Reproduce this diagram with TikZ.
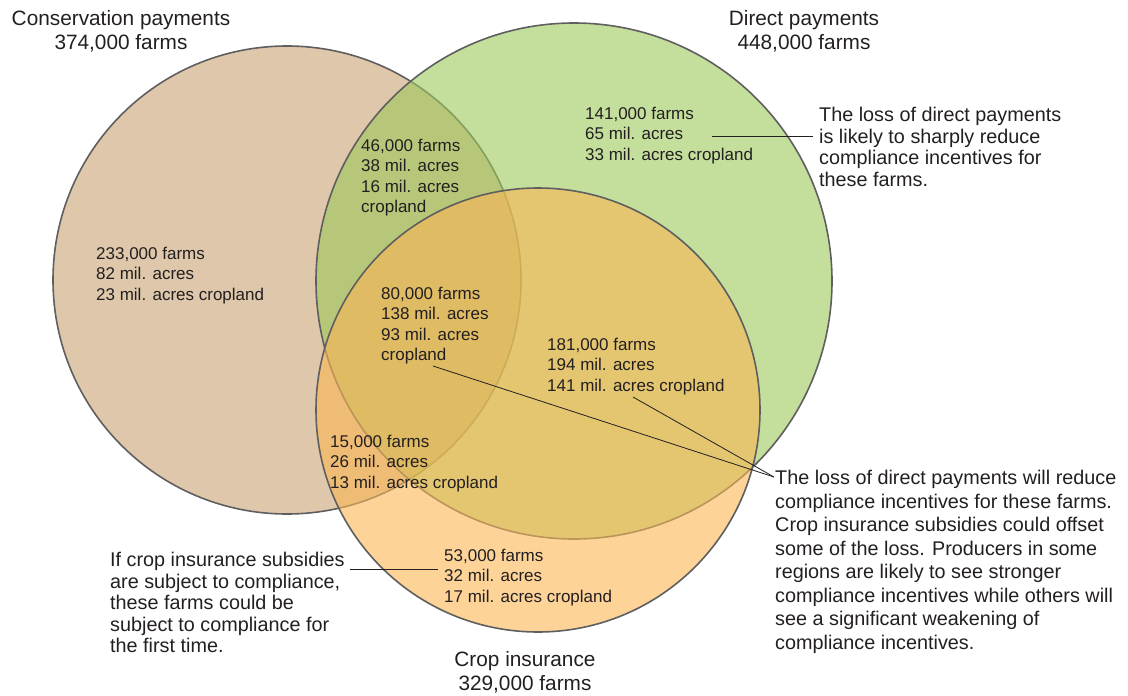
\documentclass[tikz,border=0pt]{standalone}
\usepackage{fontspec}
\setmainfont{Liberation Sans}
\usepackage{tikz}
\definecolor{constan}{RGB}{222,199,170}
\definecolor{directgreen}{RGB}{157,200,90}
\definecolor{cropgold}{RGB}{251,182,84}
\definecolor{ringgray}{RGB}{95,95,95}
\definecolor{inkgray}{RGB}{35,31,32}
\tikzset{ring/.style={draw=ringgray,line width=1.6pt}}
\tikzset{region/.style={anchor=north west,inner sep=0,align=left,text=inkgray,font=\fontsize{17}{20.3}\selectfont}}
\tikzset{setlabel/.style={anchor=north,inner sep=0,align=center,text=inkgray,font=\fontsize{20.8}{24.5}\selectfont}}
\tikzset{note/.style={anchor=north west,inner sep=0,align=left,text=inkgray,font=\fontsize{19.8}{21.5}\selectfont}}
\tikzset{lead/.style={draw=inkgray,line width=1pt}}

\begin{document}
\begin{tikzpicture}[x=1pt, y=-1pt]

\useasboundingbox (0,0) rectangle (1128,696);

\draw [ring, fill=constan] (287,280) circle [radius=234pt];
\draw [ring, fill=directgreen, fill opacity=0.6] (574,281) circle [radius=258pt];
\draw [ring, fill=cropgold, fill opacity=0.6] (538,410) circle [radius=222pt];

\node [setlabel] (conslabel) at (121,10) {Conservation payments\\374,000 farms};
\node [setlabel] (directlabel) at (804,10) {Direct payments\\448,000 farms};
\node [setlabel] (croplabel) at (525,651) {Crop insurance\\329,000 farms};

\node [region] (consonly) at (96,247) {233,000 farms\\82 mil. acres\\23 mil. acres cropland};
\node [region] (consdirect) at (361,139) {46,000 farms\\38 mil. acres\\16 mil. acres\\cropland};
\node [region] (directonly) at (585,107) {141,000 farms\\65 mil. acres\\33 mil. acres cropland};
\node [region] (allthree) at (381,287) {80,000 farms\\138 mil. acres\\93 mil. acres\\cropland};
\node [region] (directcrop) at (547,338) {181,000 farms\\194 mil. acres\\141 mil. acres cropland};
\node [region] (conscrop) at (330,435) {15,000 farms\\26 mil. acres\\13 mil. acres cropland};
\node [region] (croponly) at (444,549) {53,000 farms\\32 mil. acres\\17 mil. acres cropland};

\node [note] (noteA) at (819,107) {The loss of direct payments\\is likely to sharply reduce\\compliance incentives for\\these farms.};
\node [note, font=\fontsize{19.8}{23.5}\selectfont] (noteB) at (775,470) {The loss of direct payments will reduce\\compliance incentives for these farms.\\Crop insurance subsidies could offset\\some of the loss. Producers in some\\regions are likely to see stronger\\compliance incentives while others will\\see a significant weakening of\\compliance incentives.};
\node [note] (noteC) at (110,552) {If crop insurance subsidies\\are subject to compliance,\\these farms could be\\subject to compliance for\\the first time.};

\coordinate (tipA) at (712,136);
\coordinate (endA) at (813,136);
\coordinate (tipB) at (433,366);
\coordinate (tipC) at (633,397);
\coordinate (endB) at (774,477);
\coordinate (tipD) at (438,569);
\coordinate (endD) at (350,569);

\draw [lead] (tipA) -- (endA);
\draw [lead, line width=0.8pt] (tipB) -- (endB);
\draw [lead, line width=0.8pt] (tipC) -- (endB);
\draw [lead] (tipD) -- (endD);

\end{tikzpicture}
\end{document}
